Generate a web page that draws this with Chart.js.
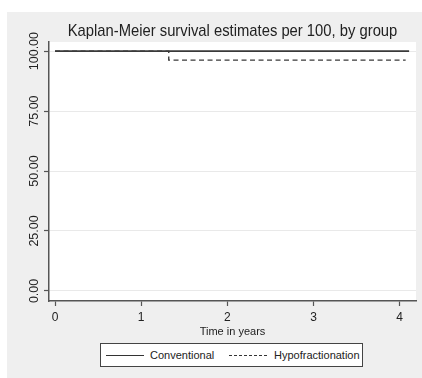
<!DOCTYPE html>
<html>
<head>
<meta charset="utf-8">
<script src="https://cdn.jsdelivr.net/npm/chart.js@4"></script>
<style>
    body { margin: 0; width: 422px; height: 378px; position: relative; overflow: hidden; background: #fff; font-family: "Liberation Sans", Arial, sans-serif; color: #222; }
    #km { position: absolute; left: 0; top: 0; }
    .title { position: absolute; left: 12px; width: 441px; top: 20px; text-align: center; font-size: 17px; line-height: 22px; white-space: nowrap; transform: scaleX(0.87); }
    .legend { position: absolute; left: 100px; top: 343px; width: 261px; height: 22px; background: #fff; border: 1px solid #444; font-size: 11px; }
    .legend span { position: absolute; top: 0; line-height: 22px; }
    .legend i { position: absolute; top: 11px; width: 38px; height: 0; border-top: 1px solid #333; }
</style>
</head>
<body>
<canvas id="km" width="422" height="378"></canvas>
<div class="title">Kaplan-Meier survival estimates per 100, by group</div>
<div class="legend">
    <i style="left:5px"></i><span style="left:49px">Conventional</span>
    <i style="left:128px; border-top-style:dashed"></i><span style="left:173px">Hypofractionation</span>
</div>
<script>
// Data
const convTimes = [0, 4.11];
const convSurv = [100, 100];
const hypoTimes = [0, 1.32, 4.07];
const hypoSurv = [100, 96.25, 96.25];
const xTicks = [0, 1, 2, 3, 4];
const yTicks = [0, 25, 50, 75, 100];

const toPoints = (xs, ys) => xs.map((x, i) => ({ x, y: ys[i] }));

// grey panel + white plot region
const panel = {
    id: 'panel',
    beforeDraw(chart) {
        const { ctx, chartArea: a } = chart;
        ctx.save();
        ctx.fillStyle = '#efefef';
        ctx.fillRect(7, 12, 415, 366);
        ctx.fillStyle = '#fff';
        ctx.fillRect(a.left, a.top, a.right - a.left, a.bottom - a.top);
        ctx.restore();
    }
};

const axisColor = '#555';
const textColor = '#222';

new Chart(document.getElementById('km'), {
    type: 'line',
    data: {
        datasets: [{
            label: 'Conventional',
            data: toPoints(convTimes, convSurv),
            borderColor: '#3a3a3a',
            borderWidth: 1.6,
            stepped: true,
            pointRadius: 0
        }, {
            label: 'Hypofractionation',
            data: toPoints(hypoTimes, hypoSurv),
            borderColor: '#3a3a3a',
            borderWidth: 1.4,
            borderDash: [5, 3.5],
            stepped: true,
            pointRadius: 0
        }]
    },
    options: {
        responsive: false,
        animation: false,
        layout: { padding: { left: 7, top: 42, right: 6, bottom: 39.4 } },
        plugins: {
            legend: { display: false },
            title: { display: false },
            tooltip: { enabled: false }
        },
        scales: {
            x: {
                type: 'linear',
                min: -0.07,
                max: 4.19,
                afterBuildTicks: s => { s.ticks = xTicks.map(v => ({ value: v })); },
                afterFit: s => { s.height = 37.6; },
                ticks: { color: textColor, font: { family: 'Liberation Sans', size: 12 }, padding: 4, maxRotation: 0 },
                grid: { drawOnChartArea: false, tickColor: axisColor, tickLength: 5, tickWidth: 1.2 },
                border: { color: axisColor, width: 1.5 },
                title: { display: true, text: 'Time in years', color: textColor, font: { family: 'Liberation Sans', size: 11 }, padding: 0 }
            },
            y: {
                min: -4.2,
                max: 103.8,
                afterBuildTicks: s => { s.ticks = yTicks.map(v => ({ value: v })); },
                afterFit: s => { s.width = 42; },
                ticks: {
                    color: textColor,
                    font: { family: 'Liberation Sans', size: 12.5 },
                    minRotation: 90,
                    maxRotation: 90,
                    crossAlign: 'center',
                    padding: -10,
                    callback: v => v.toFixed(2)
                },
                grid: { color: '#e9e9e9', tickColor: axisColor, tickLength: 5, tickWidth: 1.2 },
                border: { color: axisColor, width: 1.5 }
            }
        }
    },
    plugins: [panel]
});
</script>
</body>
</html>
